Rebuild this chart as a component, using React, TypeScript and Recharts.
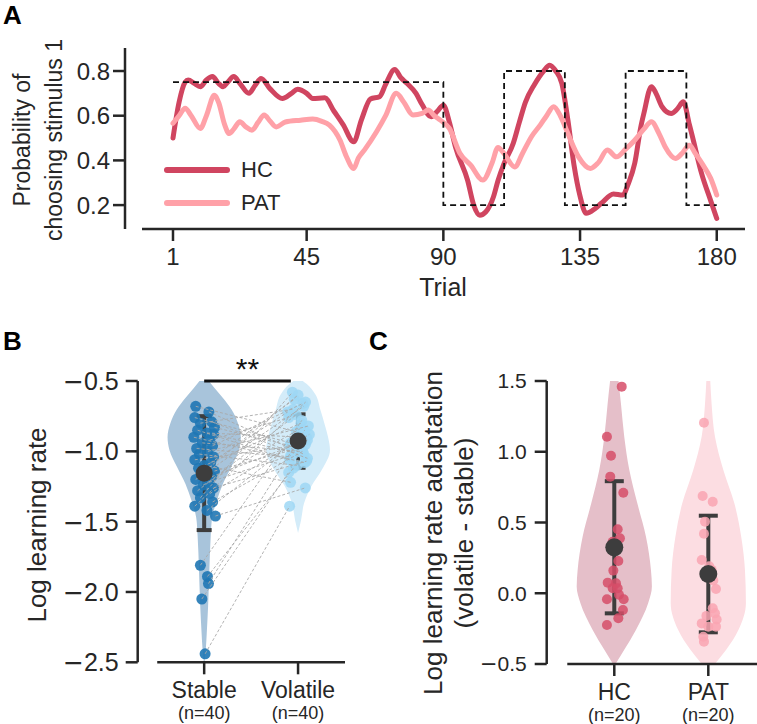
import React from 'react';
import {
  LineChart, ComposedChart, Line, Area, Scatter, XAxis, YAxis,
  ReferenceLine, ErrorBar, Label, Legend,
} from 'recharts';

const FONT = '"Liberation Sans", Arial, sans-serif';
const INK = '#262626';

// ---------------- Panel A data ----------------
const trialTicks = [1, 45, 90, 135, 180];
const probTicks = [0.2, 0.4, 0.6, 0.8];

const hcTrials = [1, 3, 5, 6, 8, 10, 12, 14, 16, 17.5, 19, 21, 23, 26, 28, 30, 33, 37, 40, 42, 45, 47, 51, 54, 57, 60.5, 63, 66, 69, 71, 74, 76, 78, 81, 83, 86, 88, 90, 92, 94, 98, 100, 102, 104, 106.5, 108, 110, 113, 115, 117, 120, 123, 125, 127, 129, 131, 133, 135, 137, 140, 142, 146, 149, 151, 153, 155, 156, 158.5, 160, 162, 165, 167, 169, 171, 172, 175, 178, 180];
const hcProb = [0.5, 0.66, 0.75, 0.76, 0.745, 0.73, 0.76, 0.775, 0.745, 0.73, 0.75, 0.775, 0.745, 0.7, 0.735, 0.767, 0.72, 0.677, 0.7, 0.718, 0.7, 0.677, 0.68, 0.62, 0.56, 0.483, 0.58, 0.675, 0.685, 0.74, 0.807, 0.77, 0.745, 0.7, 0.65, 0.595, 0.62, 0.647, 0.57, 0.46, 0.31, 0.2, 0.155, 0.17, 0.237, 0.31, 0.387, 0.476, 0.57, 0.66, 0.74, 0.8, 0.826, 0.8, 0.745, 0.58, 0.38, 0.24, 0.163, 0.185, 0.208, 0.25, 0.245, 0.3, 0.387, 0.55, 0.61, 0.73, 0.7, 0.64, 0.61, 0.63, 0.662, 0.56, 0.506, 0.342, 0.22, 0.14];

const patTrials = [1, 3, 5, 7, 10, 12, 14.6, 16, 18, 19.5, 21, 23, 25, 27, 29, 31, 33, 35, 38, 43, 47, 50, 52.5, 56, 58, 60.5, 62, 64, 68, 71, 74.5, 77, 80, 83, 85, 87, 89, 92, 95.5, 99, 103, 106, 108, 110, 113.5, 116, 119, 122, 124, 126.3, 128.5, 131, 134.5, 138.4, 141, 144, 147, 150, 153, 156, 158.5, 161, 163, 166.4, 168.5, 171, 173, 175.5, 178, 180];
const patProb = [0.566, 0.6, 0.633, 0.6, 0.543, 0.6, 0.692, 0.66, 0.56, 0.52, 0.54, 0.573, 0.55, 0.535, 0.57, 0.603, 0.575, 0.55, 0.572, 0.58, 0.585, 0.575, 0.558, 0.49, 0.42, 0.364, 0.41, 0.446, 0.528, 0.6, 0.7, 0.66, 0.603, 0.61, 0.625, 0.6, 0.58, 0.543, 0.431, 0.379, 0.312, 0.387, 0.458, 0.43, 0.371, 0.43, 0.506, 0.56, 0.6, 0.64, 0.6, 0.52, 0.416, 0.364, 0.39, 0.446, 0.416, 0.45, 0.49, 0.54, 0.573, 0.52, 0.461, 0.409, 0.43, 0.468, 0.43, 0.379, 0.32, 0.245];

const blockTrials = [1, 90, 90, 110, 110, 130, 130, 150, 150, 170, 170, 180];
const blockProb = [0.75, 0.75, 0.2, 0.2, 0.8, 0.8, 0.2, 0.2, 0.8, 0.8, 0.2, 0.2];

// ---------------- Panel B data ----------------
const conditions = ['Stable', 'Volatile'];
const conditionN = ['(n=40)', '(n=40)'];
const rateTicks = [-2.5, -2, -1.5, -1, -0.5];
const stableRate = [-0.68, -0.72, -0.76, -0.79, -0.8, -0.83, -0.85, -0.87, -0.88, -0.9, -0.92, -0.94, -0.96, -0.98, -1.0, -1.02, -1.04, -1.06, -1.08, -1.1, -1.12, -1.14, -1.16, -1.18, -1.2, -1.22, -1.24, -1.26, -1.28, -1.3, -1.33, -1.36, -1.39, -1.42, -1.46, -1.81, -1.89, -1.94, -2.05, -2.44];
const stableJitter = [-0.09, 0.05, -0.1, 0.08, -0.04, 0.11, -0.07, 0.03, 0.1, -0.11, 0.06, -0.02, 0.09, -0.08, 0.04, -0.05, 0.1, -0.1, 0.07, 0.0, -0.06, 0.11, -0.03, 0.08, -0.09, 0.05, -0.01, 0.1, -0.07, 0.06, -0.04, 0.09, -0.1, 0.03, 0.12, -0.04, 0.035, 0.046, -0.025, 0.01];
const volatileRate = [-0.86, -1.02, -0.94, -1.05, -0.7, -0.98, -1.06, -0.9, -1.01, -1.08, -0.76, -1.0, -0.66, -1.04, -0.82, -1.1, -0.63, -0.95, -0.72, -1.22, -0.8, -0.99, -0.6, -0.92, -0.68, -1.03, -0.84, -1.07, -0.74, -0.88, -0.58, -1.0, -0.65, -0.96, -1.26, -0.78, -1.12, -0.85, -1.15, -1.39];
const volatileJitter = [-0.02, 0.06, -0.08, 0.1, -0.05, 0.04, -0.09, 0.09, -0.03, 0.07, -0.1, 0.02, 0.05, -0.07, 0.11, -0.01, -0.04, 0.08, -0.11, -0.08, 0.03, -0.06, 0.0, 0.1, 0.06, -0.08, 0.02, 0.09, -0.02, 0.12, -0.06, 0.05, 0.08, -0.09, 0.077, 0.04, -0.05, 0.07, -0.1, -0.09];
const conditionMean = [-1.155, -0.927];
const conditionSd = [0.405, 0.19];
const stableViolinY = [-2.49, -2.4, -2.3, -2.1, -1.85, -1.6, -1.47, -1.35, -1.23, -1.11, -0.99, -0.9, -0.8, -0.7, -0.62, -0.55, -0.5];
const stableViolinHalf = [0.005, 0.018, 0.027, 0.042, 0.055, 0.07, 0.085, 0.135, 0.2, 0.29, 0.37, 0.39, 0.36, 0.29, 0.2, 0.11, 0.05];
const volatileViolinY = [-1.58, -1.49, -1.37, -1.25, -1.13, -0.99, -0.9, -0.8, -0.71, -0.59, -0.52, -0.5];
const volatileViolinHalf = [0.0, 0.032, 0.064, 0.14, 0.255, 0.34, 0.32, 0.28, 0.24, 0.18, 0.09, 0.05];

// ---------------- Panel C data ----------------
const groups = ['HC', 'PAT'];
const groupN = ['(n=20)', '(n=20)'];
const adaptTicks = [-0.5, 0, 0.5, 1, 1.5];
const hcAdapt = [1.46, 1.106, 0.972, 0.824, 0.71, 0.452, 0.388, 0.364, 0.228, 0.16, 0.075, 0.07, 0.035, 0.035, -0.01, -0.043, -0.043, -0.118, -0.177, -0.224];
const hcJitter = [0.079, -0.078, -0.035, -0.043, 0.096, 0.036, 0.06, -0.017, 0.043, -0.01, -0.07, 0.018, -0.017, 0.036, 0.05, -0.078, 0.1, 0.092, 0.043, -0.078];
const patAdapt = [1.205, 0.687, 0.647, 0.506, 0.42, 0.235, 0.19, 0.165, 0.13, 0.09, 0.03, -0.106, -0.142, -0.16, -0.185, -0.213, -0.236, -0.236, -0.307, -0.342];
const patJitter = [-0.046, -0.06, 0.047, -0.035, -0.046, -0.07, 0.01, 0.036, -0.035, 0.053, 0.082, 0.047, 0.071, -0.02, 0.089, -0.07, 0.0, 0.082, -0.053, -0.046];
const groupMean = [0.325, 0.136];
const groupSd = [0.467, 0.412];
const hcViolinY = [-0.495, -0.4, -0.26, -0.071, 0.047, 0.164, 0.4, 0.636, 0.871, 1.106, 1.34, 1.5];
const hcViolinHalf = [0.018, 0.106, 0.23, 0.36, 0.4, 0.39, 0.337, 0.245, 0.16, 0.106, 0.071, 0.045];
const patViolinY = [-0.5, -0.4, -0.26, -0.071, 0.164, 0.4, 0.636, 0.871, 1.106, 1.34, 1.5];
const patViolinHalf = [0.07, 0.19, 0.32, 0.4, 0.39, 0.35, 0.277, 0.16, 0.071, 0.035, 0.021];

// ---------------- colours ----------------
const HC_COLOR = '#d04560';
const PAT_COLOR = '#ffa1a8';
const STABLE_VIOLIN = '#a8c4db';
const VOLATILE_VIOLIN = '#d4ecf9';
const STABLE_PT = '#1f77b4';
const VOLATILE_PT = '#9ed7f4';
const HC_VIOLIN = '#e5bfc9';
const PAT_VIOLIN = '#fcdde2';
const HC_PT = '#d64d68';
const PAT_PT = '#f9a5b1';
const MEAN = '#3d3d3d';

// ---------------- helpers ----------------
const series = (xs: number[], ys: number[]) => xs.map((t, i) => ({ t, v: ys[i] }));
const violin = (center: number, ys: number[], halves: number[]) =>
  ys.map((y, i) => ({ y, range: [center - halves[i], center + halves[i]] }));
const strip = (center: number, vals: number[], jit: number[]) =>
  vals.map((y, i) => ({ x: center + jit[i], y }));
const dot = (r: number, fill: string, opacity = 1) => (p: any) =>
  <circle cx={p.cx} cy={p.cy} r={r} fill={fill} fillOpacity={opacity} />;
const noShape = () => <g />;

// y tick with a wide (DejaVu) minus sign, like matplotlib's
const NumTick = (props: any) => {
  const { x, y, payload, size } = props;
  const v = payload.value as number;
  return (
    <text x={x} y={y} dy="0.355em" textAnchor="end" fontSize={size} fill={INK} fontFamily={FONT}>
      {v < 0 ? <tspan fontFamily='"DejaVu Sans", sans-serif'>{'\u2212'}</tspan> : null}
      <tspan>{Math.abs(v).toFixed(1)}</tspan>
    </text>
  );
};

const CatTick = (props: any) => {
  const { x, y, payload, names, ns } = props;
  const i = Math.round(payload.value);
  return (
    <g>
      <text x={x} y={y + 21.5} textAnchor="middle" fontSize={23} fill={INK} fontFamily={FONT}>{names[i]}</text>
      <text x={x} y={y + 42.5} textAnchor="middle" fontSize={18} fill={INK} fontFamily={FONT}>{ns[i]}</text>
    </g>
  );
};

const LegendBox = (props: any) => {
  const items = (props.payload || []).filter((p: any) => p.type !== 'none');
  return (
    <div>
      {items.map((p: any) => (
        <div key={p.value} style={{ display: 'flex', alignItems: 'center', height: 33 }}>
          <svg width={74} height={12} style={{ display: 'block' }}>
            <line x1={6} y1={6} x2={66} y2={6} stroke={p.color} strokeWidth={6} strokeLinecap="round" />
          </svg>
          <span style={{ marginLeft: 6, fontSize: 22, color: INK, fontFamily: FONT, lineHeight: '22px' }}>{p.value}</span>
        </div>
      ))}
    </div>
  );
};

const axisLineStyle = { stroke: INK, strokeWidth: 2.5 };
const tickText = { fill: INK, fontSize: 24, fontFamily: FONT };

function PanelA() {
  return (
    <LineChart width={757} height={300} margin={{ top: 48, right: 12, bottom: 1, left: 0 }}>
      <XAxis type="number" dataKey="t" domain={[-14.8, 189.3]} ticks={trialTicks} allowDataOverflow
        axisLine={false} tickLine={axisLineStyle} tickSize={12} tickMargin={7} height={70}
        tick={tickText} interval={0}>
        <Label value="Trial" position="insideBottom" offset={3} dx={8} fontSize={25} fill={INK} fontFamily={FONT} />
      </XAxis>
      <YAxis type="number" domain={[0.093, 0.903]} ticks={probTicks} allowDataOverflow width={125}
        axisLine={axisLineStyle} tickLine={axisLineStyle} tickSize={12} tickMargin={3}
        tick={(p: any) => <NumTick {...p} size={24} />} interval={0} />
      <ReferenceLine segment={[{ x: -9.2, y: 0.093 }, { x: 189.3, y: 0.093 }]} stroke={INK} strokeWidth={2.5} ifOverflow="visible" />
      <Line data={series(hcTrials, hcProb)} dataKey="v" name="HC" stroke={HC_COLOR} strokeWidth={5}
        strokeLinecap="round" strokeLinejoin="round" dot={false} activeDot={false} type="monotone" isAnimationActive={false} />
      <Line data={series(patTrials, patProb)} dataKey="v" name="PAT" stroke={PAT_COLOR} strokeWidth={5}
        strokeLinecap="round" strokeLinejoin="round" dot={false} activeDot={false} type="monotone" isAnimationActive={false} />
      <Line data={series(blockTrials, blockProb)} dataKey="v" name="Reward probability" stroke="#111" strokeWidth={1.8}
        strokeDasharray="6 4" dot={false} activeDot={false} type="linear" legendType="none" isAnimationActive={false} />
      <Legend layout="vertical" align="center" verticalAlign="middle" content={(p: any) => <LegendBox {...p} />}
        wrapperStyle={{ left: 161, top: 153.5, width: 130 }} />
    </LineChart>
  );
}

function PanelB() {
  const means = conditionMean.map((m, i) => ({ x: i, y: m, sd: conditionSd[i] }));
  return (
    <ComposedChart layout="vertical" width={380} height={424} margin={{ top: 81, right: 35, bottom: 1.7, left: 0 }}>
      <XAxis type="number" dataKey="x" domain={[-0.708, 1.5]} ticks={[0, 1]} allowDataOverflow
        axisLine={false} tickLine={axisLineStyle} tickSize={12} height={60} interval={0}
        tick={(p: any) => <CatTick {...p} names={conditions} ns={conditionN} />} />
      <YAxis type="number" dataKey="y" domain={[-2.5, -0.5]} ticks={rateTicks} allowDataOverflow width={137.7} reversed
        axisLine={axisLineStyle} tickLine={axisLineStyle} tickSize={12} tickMargin={7}
        tick={(p: any) => <NumTick {...p} size={25} />} interval={0} />
      <Area data={violin(0, stableViolinY, stableViolinHalf)} dataKey="range" fill={STABLE_VIOLIN} fillOpacity={1}
        stroke="none" type="monotone" dot={false} activeDot={false} isAnimationActive={false} />
      <Area data={violin(1, volatileViolinY, volatileViolinHalf)} dataKey="range" fill={VOLATILE_VIOLIN} fillOpacity={1}
        stroke="none" type="monotone" dot={false} activeDot={false} isAnimationActive={false} />
      <ReferenceLine segment={[{ x: -0.5, y: -2.5 }, { x: 1.5, y: -2.5 }]} stroke={INK} strokeWidth={2.5} ifOverflow="visible" />
      <Scatter data={strip(0, stableRate, stableJitter)} dataKey="x" shape={dot(5.5, STABLE_PT, 0.9)} isAnimationActive={false} />
      <Scatter data={strip(1, volatileRate, volatileJitter)} dataKey="x" shape={dot(5.5, VOLATILE_PT, 0.85)} isAnimationActive={false} />
      {stableRate.map((s, i) => (
        <Scatter key={'pair' + i}
          data={[{ x: stableJitter[i], y: s }, { x: 1 + volatileJitter[i], y: volatileRate[i] }]}
          dataKey="x" shape={noShape} isAnimationActive={false}
          line={{ stroke: '#a9a9a9', strokeWidth: 0.9, strokeDasharray: '3 2' }} />
      ))}
      <Scatter data={means} dataKey="x" shape={dot(8.5, MEAN)} isAnimationActive={false}>
        <ErrorBar dataKey="sd" direction="y" width={7.5} stroke={MEAN} strokeWidth={4} />
      </Scatter>
      <ReferenceLine segment={[{ x: 0, y: -0.5 }, { x: 0.923, y: -0.5 }]} stroke="#111" strokeWidth={3} ifOverflow="visible"
        label={{ value: '**', position: 'top', offset: 2, fontSize: 30, fill: '#111', fontFamily: FONT }} />
    </ComposedChart>
  );
}

function PanelC() {
  const means = groupMean.map((m, i) => ({ x: i, y: m, sd: groupSd[i] }));
  return (
    <ComposedChart layout="vertical" width={377} height={424} margin={{ top: 81, right: 0, bottom: 0, left: 0 }}>
      <XAxis type="number" dataKey="x" domain={[-0.719, 1.518]} ticks={[0, 1]} allowDataOverflow
        axisLine={false} tickLine={axisLineStyle} tickSize={12} height={60} interval={0}
        tick={(p: any) => <CatTick {...p} names={groups} ns={groupN} />} />
      <YAxis type="number" dataKey="y" domain={[-0.5, 1.5]} ticks={adaptTicks} allowDataOverflow width={166.7} reversed
        axisLine={axisLineStyle} tickLine={axisLineStyle} tickSize={12} tickMargin={8}
        tick={(p: any) => <NumTick {...p} size={21} />} interval={0} />
      <Area data={violin(0, hcViolinY, hcViolinHalf)} dataKey="range" fill={HC_VIOLIN} fillOpacity={1}
        stroke="none" type="monotone" dot={false} activeDot={false} isAnimationActive={false} />
      <Area data={violin(1, patViolinY, patViolinHalf)} dataKey="range" fill={PAT_VIOLIN} fillOpacity={1}
        stroke="none" type="monotone" dot={false} activeDot={false} isAnimationActive={false} />
      <ReferenceLine segment={[{ x: -0.5, y: -0.5 }, { x: 1.518, y: -0.5 }]} stroke={INK} strokeWidth={2.5} ifOverflow="visible" />
      <Scatter data={strip(0, hcAdapt, hcJitter)} dataKey="x" shape={dot(5, HC_PT, 0.85)} isAnimationActive={false} />
      <Scatter data={strip(1, patAdapt, patJitter)} dataKey="x" shape={dot(5, PAT_PT, 0.85)} isAnimationActive={false} />
      <Scatter data={means} dataKey="x" shape={dot(9, MEAN)} isAnimationActive={false}>
        <ErrorBar dataKey="sd" direction="y" width={9.5} stroke={MEAN} strokeWidth={4} />
      </Scatter>
    </ComposedChart>
  );
}

const RotText = ({ x, cy, size, children }: any) => (
  <text x={x} y={cy} transform={`rotate(-90 ${x} ${cy})`} textAnchor="middle" fontSize={size} fill={INK} fontFamily={FONT}>
    {children}
  </text>
);

export default function App() {
  return (
    <div style={{ position: 'absolute', left: 0, top: 0, width: 757, height: 724, background: '#fff', overflow: 'hidden' }}>
      <div style={{ position: 'absolute', left: 0, top: 0 }}><PanelA /></div>
      <div style={{ position: 'absolute', left: 0, top: 300 }}><PanelB /></div>
      <div style={{ position: 'absolute', left: 380, top: 300 }}><PanelC /></div>
      <svg width={757} height={724} style={{ position: 'absolute', left: 0, top: 0, pointerEvents: 'none' }}>
        <text x={3} y={24} fontSize={26} fontWeight="bold" fill="#000" fontFamily={FONT}>A</text>
        <text x={3} y={350} fontSize={26} fontWeight="bold" fill="#000" fontFamily={FONT}>B</text>
        <text x={369} y={350} fontSize={26} fontWeight="bold" fill="#000" fontFamily={FONT}>C</text>
        <RotText x={30} cy={140} size={23}>Probability of</RotText>
        <RotText x={62} cy={140} size={23}>choosing stimulus 1</RotText>
        <RotText x={46} cy={525} size={26}>Log learning rate</RotText>
        <RotText x={442} cy={533} size={26}>Log learning rate adaptation</RotText>
        <RotText x={473} cy={533} size={26}>(volatile - stable)</RotText>
      </svg>
    </div>
  );
}
